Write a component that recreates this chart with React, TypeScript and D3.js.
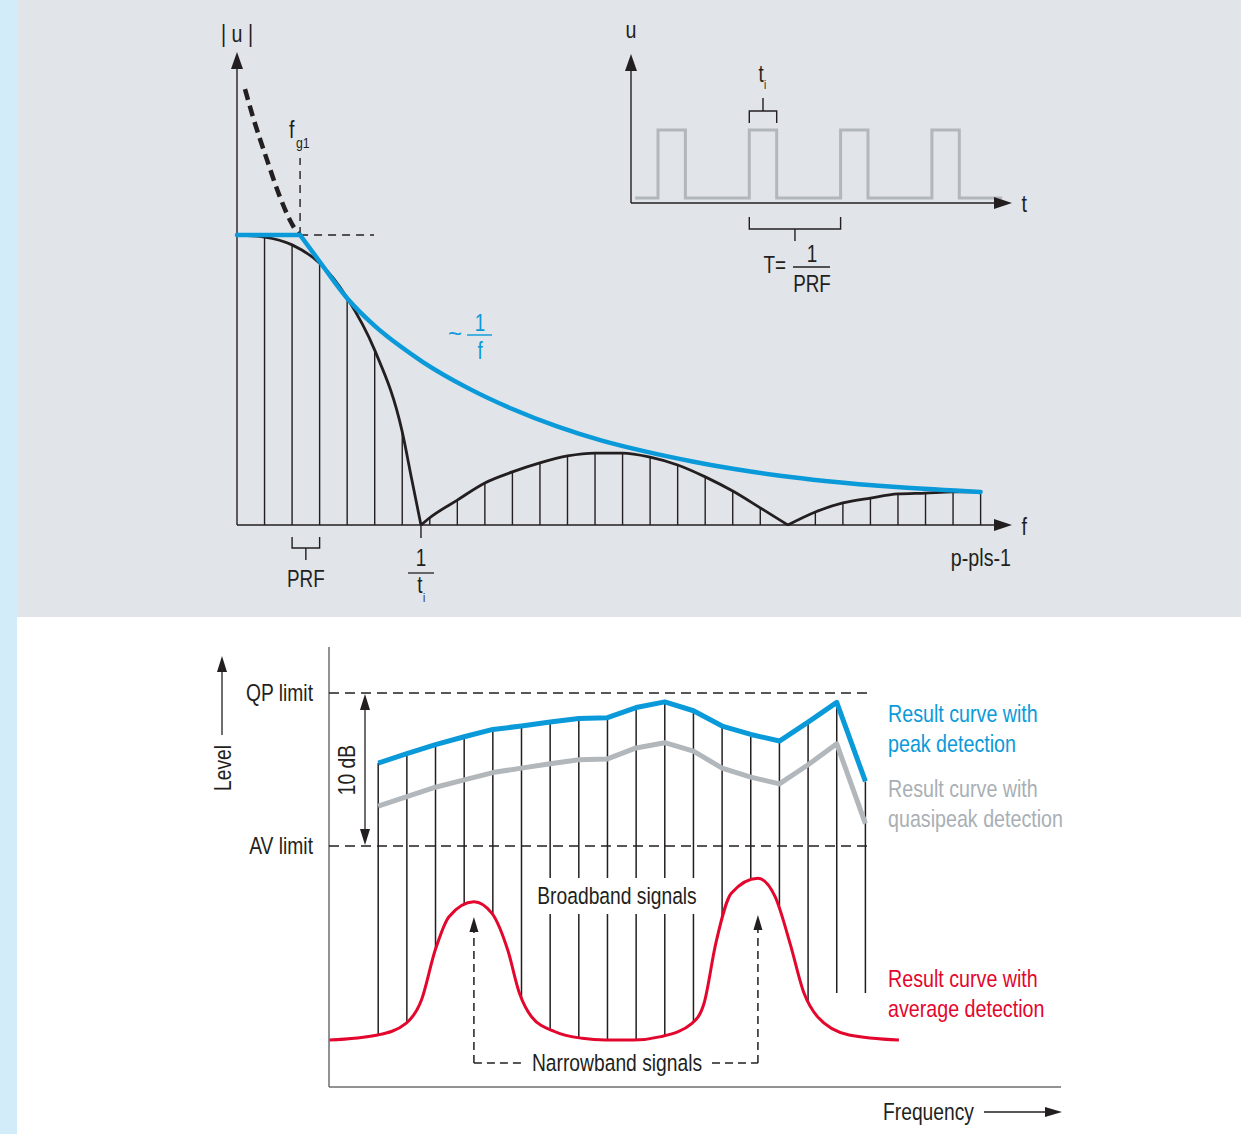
import React from 'react';
import * as d3 from 'd3';

const FONT = '"Liberation Sans", Arial, sans-serif';
const INK = '#231f20';
const BLUE = '#0a9ad9';
const GREYC = '#b2b7bc';
const GREYT = '#a9afb5';
const RED = '#e3062d';

// ---------------- Top chart: line spectrum of a pulse train ----------------
const topLineIdx = [0, 1, 2, 3, 4, 5, 6, 7, 8, 9, 10, 11, 12, 13, 14, 15, 16, 17, 18, 19, 20, 21, 22, 23, 24, 25, 26, 27];
const topLineAmp = [1.0, 0.993, 0.966, 0.903, 0.783, 0.603, 0.321, 0.025, 0.086, 0.145, 0.183, 0.214, 0.238, 0.248, 0.248, 0.234, 0.207, 0.166, 0.117, 0.059, 0, 0.045, 0.076, 0.093, 0.107, 0.11, 0.114, 0.114];

const lobe1F = [0, 1, 2, 3, 4, 5, 6, 6.35, 6.68];
const lobe1A = [1.0, 0.993, 0.966, 0.903, 0.783, 0.603, 0.321, 0.155, 0];
const lobe2F = [6.68, 7, 8, 9, 10, 11, 12, 13, 14, 15, 16, 17, 18, 19, 20];
const lobe2A = [0, 0.025, 0.086, 0.145, 0.183, 0.214, 0.238, 0.248, 0.248, 0.234, 0.207, 0.166, 0.117, 0.059, 0];
const lobe3F = [20, 21, 22, 23, 24, 25, 26, 27];
const lobe3A = [0, 0.045, 0.076, 0.093, 0.107, 0.11, 0.114, 0.114];

const blueF = [2.29, 3.01, 3.99, 5.01, 5.92, 6.75, 8.39, 10.0, 11.62, 13.25, 14.85, 16.49, 18.12, 19.72, 21.35, 24.07, 27];
const blueA = [1.0, 0.907, 0.783, 0.686, 0.617, 0.562, 0.472, 0.4, 0.34, 0.291, 0.253, 0.22, 0.192, 0.17, 0.152, 0.13, 0.114];

const dashF = [0.29, 0.58, 1.09, 1.56, 1.92, 2.21, 2.29];
const dashA = [1.503, 1.407, 1.259, 1.131, 1.052, 1.007, 1.0];

const FG1 = 2.29;
const ZERO1 = 6.68;

// inset pulse train (time in periods, u normalised)
const pulseStarts = [0, 1, 2, 3];
const pulseWidth = 0.3;
const pulseTStart = -0.25;
const pulseTEnd = 3.77;

// ---------------- Bottom chart: detectors ----------------
const botLineIdx = [0, 1, 2, 3, 4, 5, 6, 7, 8, 9, 10, 11, 12, 13, 14, 15, 16, 17];
const peakDb = [5.42, 6.04, 6.63, 7.14, 7.62, 7.84, 8.1, 8.33, 8.39, 9.05, 9.42, 8.84, 7.84, 7.29, 6.86, 8.1, 9.39, 4.22];
const qpDb = [2.61, 3.22, 3.84, 4.32, 4.8, 5.09, 5.38, 5.64, 5.69, 6.41, 6.75, 6.2, 5.09, 4.5, 4.06, 5.31, 6.68, 1.46];
const lineEndDb = [null, null, null, null, null, null, null, null, null, null, null, null, null, null, null, null, -9.61, -9.61];

const avgF = [-1.7, -0.02, 0.97, 1.51, 1.99, 2.47, 3.34, 3.97, 4.52, 4.93, 5.35, 6.17, 7.12, 7.94, 8.9, 9.86, 10.95, 11.37, 11.78, 12.32, 13.25, 13.85, 14.37, 14.86, 15.33, 16.43, 18.17];
const avgDb = [-12.68, -12.35, -11.59, -10.07, -6.8, -4.62, -3.64, -4.4, -6.8, -9.63, -11.16, -12.14, -12.57, -12.68, -12.68, -12.46, -11.59, -10.28, -6.36, -3.09, -2.11, -3.31, -6.36, -9.63, -11.16, -12.35, -12.68];

const narrowPeaks = [3.34, 13.25];
const narrowTipDb = [-4.64, -4.51];

const zip = (a: number[], b: number[]) => a.map((v, i) => [v, b[i]] as [number, number]);

function Arrow({ x, y, dir, len = 16, hw = 6, fill = INK }: { x: number; y: number; dir: 'up' | 'down' | 'right'; len?: number; hw?: number; fill?: string }) {
  let pts = '';
  if (dir === 'up') pts = `${x},${y} ${x - hw},${y + len} ${x + hw},${y + len}`;
  if (dir === 'down') pts = `${x},${y} ${x - hw},${y - len} ${x + hw},${y - len}`;
  if (dir === 'right') pts = `${x},${y} ${x - len},${y - hw} ${x - len},${y + hw}`;
  return <polygon points={pts} fill={fill} />;
}

function Label({ x, y, size = 23.5, anchor = 'start', fill = INK, rotate = 0, sx = 0.82, children }: { x: number; y: number; size?: number; anchor?: string; fill?: string; rotate?: number; sx?: number; children: React.ReactNode }) {
  const tr = `translate(${x},${y})${rotate ? ` rotate(${rotate})` : ''} scale(${sx},1)`;
  return (
    <text transform={tr} textAnchor={anchor as any} fontSize={size} fontFamily={FONT} fill={fill}>
      {children}
    </text>
  );
}

export default function App() {
  const xT = d3.scaleLinear().domain([0, 27]).range([237, 980.6]);
  const yT = d3.scaleLinear().domain([0, 1]).range([525, 235]);
  const lineT = d3.line<[number, number]>().x(d => xT(d[0])).y(d => yT(d[1])).curve(d3.curveMonotoneX);

  const xP = d3.scaleLinear().domain([0, 1]).range([658, 749.3]);
  const yP = d3.scaleLinear().domain([0, 1]).range([198, 130]);
  const pulsePts: [number, number][] = [[pulseTStart, 0]];
  pulseStarts.forEach(s => {
    pulsePts.push([s, 0], [s, 1], [s + pulseWidth, 1], [s + pulseWidth, 0]);
  });
  pulsePts.push([pulseTEnd, 0]);
  const pulsePath = d3.line<[number, number]>().x(d => xP(d[0])).y(d => yP(d[1]))(pulsePts) || '';

  const xB = d3.scaleLinear().domain([0, 17]).range([378.2, 865.4]);
  const yB = d3.scaleLinear().domain([0, 10]).range([846, 693]);
  const polyB = d3.line<[number, number]>().x(d => xB(d[0])).y(d => yB(d[1]));
  const redLine = d3.line<[number, number]>().x(d => xB(d[0])).y(d => yB(d[1])).curve(d3.curveMonotoneX);
  const redArea = d3.area<[number, number]>().x(d => xB(d[0])).y0(yB(14)).y1(d => yB(d[1])).curve(d3.curveMonotoneX);
  const avgPts = zip(avgF, avgDb);

  return (
    <svg width={1241} height={1134} style={{ position: 'absolute', left: 0, top: 0 }}>
      <defs>
        <clipPath id="aboveRed">
          <path d={redArea(avgPts) || ''} />
        </clipPath>
      </defs>
      <rect x={0} y={0} width={1241} height={1134} fill="#ffffff" />
      <rect x={0} y={0} width={17} height={1134} fill="#d3ecf9" />
      <rect x={17} y={0} width={1224} height={617} fill="#e1e4e8" />

      {/* ---------- TOP MAIN ---------- */}
      {topLineIdx.filter(k => k > 0).map(k => (
        <line key={k} x1={xT(k)} x2={xT(k)} y1={yT(0)} y2={yT(topLineAmp[k])} stroke={INK} strokeWidth={1.4} />
      ))}
      <line x1={xT(0)} x2={xT(0)} y1={yT(0)} y2={66} stroke={INK} strokeWidth={1.4} />
      <Arrow x={xT(0)} y={52} dir="up" len={17} hw={6} />
      <line x1={xT(0)} x2={996} y1={yT(0)} y2={yT(0)} stroke={INK} strokeWidth={1.4} />
      <Arrow x={1012} y={yT(0)} dir="right" len={18} hw={6} />

      {[zip(lobe1F, lobe1A), zip(lobe2F, lobe2A), zip(lobe3F, lobe3A)].map((pts, i) => (
        <path key={i} d={lineT(pts) || ''} fill="none" stroke={INK} strokeWidth={2.8} />
      ))}
      <path d={lineT(zip(dashF, dashA)) || ''} fill="none" stroke={INK} strokeWidth={4.5} strokeDasharray="11 6" />
      <line x1={xT(FG1)} x2={xT(FG1)} y1={yT(1)} y2={158} stroke={INK} strokeWidth={1.4} strokeDasharray="8 6" />
      <line x1={xT(FG1)} x2={374} y1={yT(1)} y2={yT(1)} stroke={INK} strokeWidth={1.4} strokeDasharray="8 6" />
      <line x1={xT(0)} x2={xT(FG1)} y1={yT(1)} y2={yT(1)} stroke={BLUE} strokeWidth={4.5} strokeLinecap="round" />
      <path d={lineT(zip(blueF, blueA)) || ''} fill="none" stroke={BLUE} strokeWidth={4.5} strokeLinecap="round" />

      <Label x={237} y={42} anchor="middle" size={24}>| u |</Label>
      <Label x={289} y={138} size={24}>f</Label>
      <Label x={296} y={148} size={15}>g1</Label>
      <Label x={462} y={342} anchor="end" size={24} sx={1} fill={BLUE}>~</Label>
      <Label x={480} y={331} anchor="middle" size={23} fill={BLUE}>1</Label>
      <line x1={467} x2={492} y1={335} y2={335} stroke={BLUE} strokeWidth={1.4} />
      <Label x={480} y={359} anchor="middle" size={23} fill={BLUE}>f</Label>

      <path d={`M${xT(2)},537 V548 H${xT(3)} V537 M${(xT(2) + xT(3)) / 2},548 V560`} fill="none" stroke={INK} strokeWidth={1.4} />
      <Label x={(xT(2) + xT(3)) / 2} y={587} anchor="middle" size={23}>PRF</Label>
      <line x1={xT(ZERO1)} x2={xT(ZERO1)} y1={yT(0)} y2={538} stroke={INK} strokeWidth={1.4} />
      <Label x={xT(ZERO1)} y={566} anchor="middle" size={23}>1</Label>
      <line x1={408} x2={434} y1={573} y2={573} stroke={INK} strokeWidth={1.3} />
      <Label x={xT(ZERO1) - 1} y={593} anchor="middle" size={23}>t</Label>
      <Label x={424} y={602} anchor="middle" size={12}>i</Label>
      <Label x={1027} y={535} anchor="end" size={24}>f</Label>
      <Label x={1011} y={566} anchor="end" size={24}>p-pls-1</Label>

      {/* ---------- TOP INSET ---------- */}
      <path d={pulsePath} fill="none" stroke={GREYC} strokeWidth={3} />
      <line x1={631} x2={631} y1={203} y2={68} stroke={INK} strokeWidth={1.4} />
      <Arrow x={631} y={54} dir="up" len={17} hw={6} />
      <line x1={631} x2={996} y1={203} y2={203} stroke={INK} strokeWidth={1.4} />
      <Arrow x={1012} y={203} dir="right" len={18} hw={6} />
      <Label x={631} y={38} anchor="middle" size={24}>u</Label>
      <Label x={1027} y={212} anchor="end" size={24}>t</Label>
      <path d={`M${xP(1)},123 V111 H${xP(1 + pulseWidth)} V123 M${xP(1 + pulseWidth / 2)},111 V98`} fill="none" stroke={INK} strokeWidth={1.4} />
      <Label x={761} y={82} anchor="middle" size={23}>t</Label>
      <Label x={765} y={89} anchor="middle" size={12}>i</Label>
      <path d={`M${xP(1)},217 V229 H${xP(2)} V217 M${(xP(1) + xP(2)) / 2},229 V241`} fill="none" stroke={INK} strokeWidth={1.4} />
      <Label x={786} y={273} anchor="end" size={23}>T=</Label>
      <Label x={812} y={262} anchor="middle" size={23}>1</Label>
      <line x1={793} x2={830} y1={267} y2={267} stroke={INK} strokeWidth={1.3} />
      <Label x={812} y={292} anchor="middle" size={23}>PRF</Label>

      {/* ---------- BOTTOM ---------- */}
      <line x1={329} x2={329} y1={647} y2={1087} stroke="#6d6e71" strokeWidth={1.5} />
      <line x1={329} x2={1061} y1={1087} y2={1087} stroke="#6d6e71" strokeWidth={1.5} />
      <line x1={329} x2={872} y1={yB(10)} y2={yB(10)} stroke={INK} strokeWidth={1.5} strokeDasharray="10 6" />
      <line x1={329} x2={872} y1={yB(0)} y2={yB(0)} stroke={INK} strokeWidth={1.5} strokeDasharray="10 6" />
      <Label x={313} y={701} anchor="end">QP limit</Label>
      <Label x={313} y={854} anchor="end">AV limit</Label>
      <Label x={231} y={768} anchor="middle" rotate={-90}>Level</Label>
      <line x1={222} x2={222} y1={735} y2={670} stroke={INK} strokeWidth={1.3} />
      <Arrow x={222} y={656} dir="up" len={16} hw={5} />
      <line x1={365} x2={365} y1={yB(10) + 14} y2={yB(0) - 14} stroke={INK} strokeWidth={1.3} />
      <Arrow x={365} y={yB(10) + 1} dir="up" len={16} hw={5} />
      <Arrow x={365} y={yB(0) - 1} dir="down" len={16} hw={5} />
      <Label x={355} y={770} anchor="middle" rotate={-90}>10 dB</Label>

      <g clipPath="url(#aboveRed)">
        {botLineIdx.map(k => (
          <line key={k} x1={xB(k)} x2={xB(k)} y1={yB(peakDb[k])} y2={yB(lineEndDb[k] ?? -14)} stroke={INK} strokeWidth={1.5} />
        ))}
      </g>
      <rect x={533} y={878} width={169} height={36} fill="#ffffff" />
      <Label x={617} y={904} anchor="middle">Broadband signals</Label>

      <path d={polyB(zip(botLineIdx, qpDb)) || ''} fill="none" stroke={GREYC} strokeWidth={5} strokeLinejoin="round" />
      <path d={polyB(zip(botLineIdx, peakDb)) || ''} fill="none" stroke={BLUE} strokeWidth={5} strokeLinejoin="round" />
      <path d={redLine(avgPts) || ''} fill="none" stroke={RED} strokeWidth={3} />

      {narrowPeaks.map((p, i) => (
        <g key={i}>
          <line x1={xB(p)} x2={xB(p)} y1={yB(-14.18)} y2={yB(narrowTipDb[i]) + 14} stroke={INK} strokeWidth={1.5} strokeDasharray="8 5" />
          <Arrow x={xB(p)} y={yB(narrowTipDb[i])} dir="up" len={15} hw={4.5} />
        </g>
      ))}
      <line x1={xB(narrowPeaks[0])} x2={522} y1={yB(-14.18)} y2={yB(-14.18)} stroke={INK} strokeWidth={1.5} strokeDasharray="8 5" />
      <line x1={712} x2={xB(narrowPeaks[1])} y1={yB(-14.18)} y2={yB(-14.18)} stroke={INK} strokeWidth={1.5} strokeDasharray="8 5" />
      <Label x={617} y={1071} anchor="middle">Narrowband signals</Label>

      <Label x={888} y={722} size={24} fill={BLUE}>Result curve with</Label>
      <Label x={888} y={752} size={24} fill={BLUE}>peak detection</Label>
      <Label x={888} y={797} size={24} fill={GREYT}>Result curve with</Label>
      <Label x={888} y={827} size={24} fill={GREYT}>quasipeak detection</Label>
      <Label x={888} y={987} size={24} fill={RED}>Result curve with</Label>
      <Label x={888} y={1017} size={24} fill={RED}>average detection</Label>

      <Label x={883} y={1120}>Frequency</Label>
      <line x1={984} x2={1046} y1={1112} y2={1112} stroke={INK} strokeWidth={1.3} />
      <Arrow x={1062} y={1112} dir="right" len={17} hw={5} />
    </svg>
  );
}
